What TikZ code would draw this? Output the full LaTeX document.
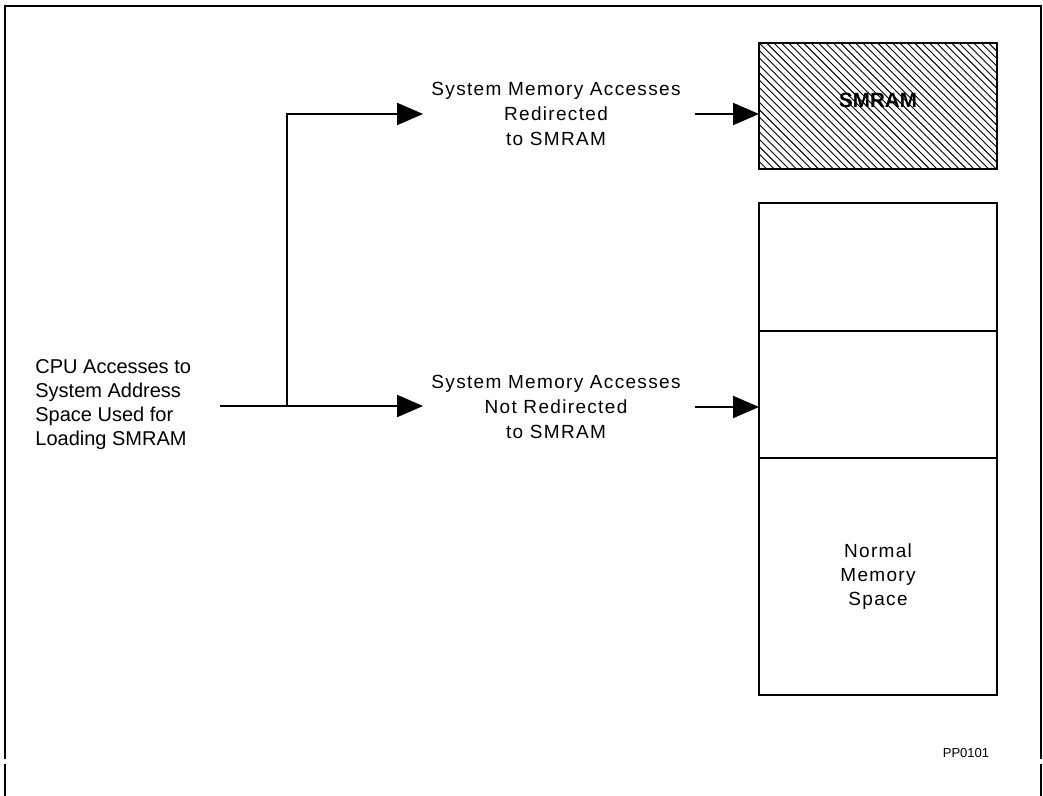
\documentclass[tikz,border=0pt]{standalone}
\usepackage{fontspec}
\setmainfont{Liberation Sans}
\newfontfamily\spacedfont{Liberation Sans}[LetterSpace=7]
\usepackage{xcolor}
\usetikzlibrary{arrows.meta,positioning}
\definecolor{ink}{HTML}{000000}
\begin{document}
\begin{tikzpicture}[x=0.5pt,y=-0.5pt]
    \tikzset{
      membox/.style={draw=ink,line width=0.8pt,minimum width=119pt,inner sep=0pt,outer sep=0pt},
      note/.style={align=center,inner sep=4pt,font=\spacedfont\fontsize{9.5}{12.3}\selectfont},
      arrow/.style={-{Triangle[length=13pt,width=11pt]},draw=ink,line width=1pt},
      frame/.style={draw=ink,line width=1.1pt},
      hatch/.style={draw=ink,line width=0.45pt}
    }
    \useasboundingbox (0,0) rectangle (1043,796);
    % page frame
    \draw[frame] (5,759) -- (5,6) -- (1041,6) -- (1041,759);
    \draw[frame] (5,764) -- (5,796);
    \draw[frame] (1041,764) -- (1041,796);
    % memory map
    \node[membox,minimum height=63pt] (smram) at (878,106) {};
    \begin{scope}
      \clip (smram.north west) rectangle (smram.south east);
      \foreach \k in {0,...,52}
        \draw[hatch] ({626+\k*7.4},43) -- ++(130,130);
    \end{scope}
    \node[membox,minimum height=63pt] at (smram) {};
    \node[font=\bfseries\fontsize{10.3}{12}\selectfont] (smramtxt) at ([yshift=3pt]smram.center) {SMRAM};
    \node[membox,minimum height=64pt,below=17pt of smram] (seg1) {};
    \node[membox,minimum height=63.5pt,below=0pt of seg1] (seg2) {};
    \node[membox,minimum height=118.5pt,below=0pt of seg2,font=\spacedfont\fontsize{9.5}{12}\selectfont,align=center] (seg3) {Normal\\Memory\\Space};
    % labels
    \node[align=left,anchor=west,inner sep=0pt,font=\fontsize{10}{12}\selectfont] (cpu) at (35,405) {CPU Accesses to\\System Address\\Space Used for\\Loading SMRAM};
    \node[note] (redir) at (556,114) {System Memory Accesses\\Redirected\\to SMRAM};
    \node[note] (notredir) at (556,407) {System Memory Accesses\\Not Redirected\\to SMRAM};
    \node[font=\fontsize{6.5}{8}\selectfont,inner sep=0pt] (tag) at (966,753) {PP0101};
    \coordinate (split) at (287,406);
    % connectors
    \draw[line width=1pt,draw=ink] ([xshift=14.5pt]cpu.east |- split) -- (split);
    \draw[arrow] (split) -- (split -| notredir.west);
    \draw[arrow] (split) |- (redir.west);
    \draw[arrow] ([xshift=3pt]redir.east) -- (redir.east -| smram.west);
    \draw[arrow] ([xshift=3pt]notredir.east) -- (notredir.east -| seg2.west);
  \end{tikzpicture}
\end{document}
